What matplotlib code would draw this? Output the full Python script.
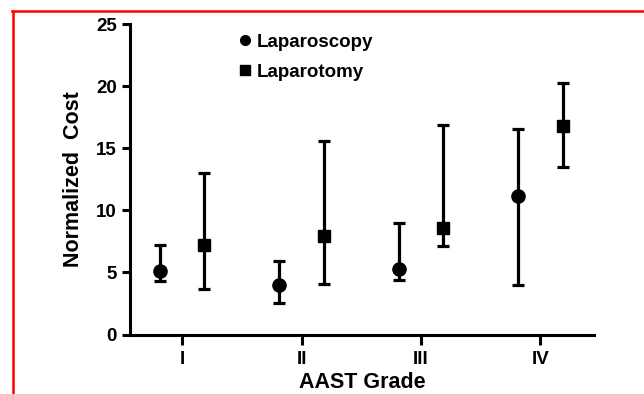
import numpy as np
import matplotlib
matplotlib.use("Agg")
from matplotlib import pyplot as plt
from matplotlib.lines import Line2D

plt.rcParams['font.family'] = ['Liberation Sans', 'DejaVu Sans']
plt.rcParams['font.weight'] = 'bold'

# data
grades = ['I', 'II', 'III', 'IV']
scopy_mid = [5.1, 4.0, 5.3, 11.2]
scopy_low = [4.3, 2.5, 4.4, 4.0]
scopy_high = [7.2, 5.9, 9.0, 16.6]
tomy_mid = [7.2, 7.9, 8.6, 16.8]
tomy_low = [3.7, 4.1, 7.1, 13.5]
tomy_high = [13.0, 15.6, 16.9, 20.3]

fig = plt.figure(figsize=(6.44, 3.94), dpi=100)
ax = fig.add_axes([0.202, 0.151, 0.7205, 0.7873])

x = np.arange(len(grades))
off = 0.187

def errs(mid, low, high):
    mid = np.array(mid)
    return [mid - np.array(low), np.array(high) - mid]

ax.errorbar(x - off, scopy_mid, yerr=errs(scopy_mid, scopy_low, scopy_high),
            fmt='o', color='black', ms=9.5, elinewidth=2.3, capsize=4.5, capthick=2.3,
            label='Laparoscopy')
ax.errorbar(x + off, tomy_mid, yerr=errs(tomy_mid, tomy_low, tomy_high),
            fmt='s', color='black', ms=9, elinewidth=2.3, capsize=4.5, capthick=2.3,
            label='Laparotomy')

ax.set_xlim(-0.436, 3.45)
ax.set_ylim(0, 25)
ax.set_yticks([0, 5, 10, 15, 20, 25])
ax.set_xticks(x)
ax.set_xticklabels(grades)

for s in ['top', 'right']:
    ax.spines[s].set_visible(False)
for s in ['left', 'bottom']:
    ax.spines[s].set_linewidth(2.2)
ax.tick_params(axis='both', width=2.2, length=6, labelsize=13.5)
ax.tick_params(axis='x', length=7, pad=5)

ax.set_ylabel('Normalized  Cost', fontsize=15.5, fontweight='bold', labelpad=9)
ax.set_xlabel('AAST Grade', fontsize=15.5, fontweight='bold', labelpad=3)

h1 = Line2D([], [], marker='o', color='black', ls='none', ms=7)
h2 = Line2D([], [], marker='s', color='black', ls='none', ms=6.5)
ax.legend([h1, h2], ['Laparoscopy', 'Laparotomy'], loc='upper left',
          bbox_to_anchor=(0.2, 1.025), frameon=False, fontsize=13.5,
          handlelength=0.6, handletextpad=0.3, labelspacing=0.7)

# red frame (left and top only)
fig.add_artist(Line2D([12.7 / 644, 12.7 / 644], [0, 1 - 11 / 394],
                      transform=fig.transFigure, color='red', lw=1.8))
fig.add_artist(Line2D([12 / 644, 1], [1 - 11 / 394, 1 - 11 / 394],
                      transform=fig.transFigure, color='red', lw=1.8))

fig.savefig('out.png', dpi=100)
